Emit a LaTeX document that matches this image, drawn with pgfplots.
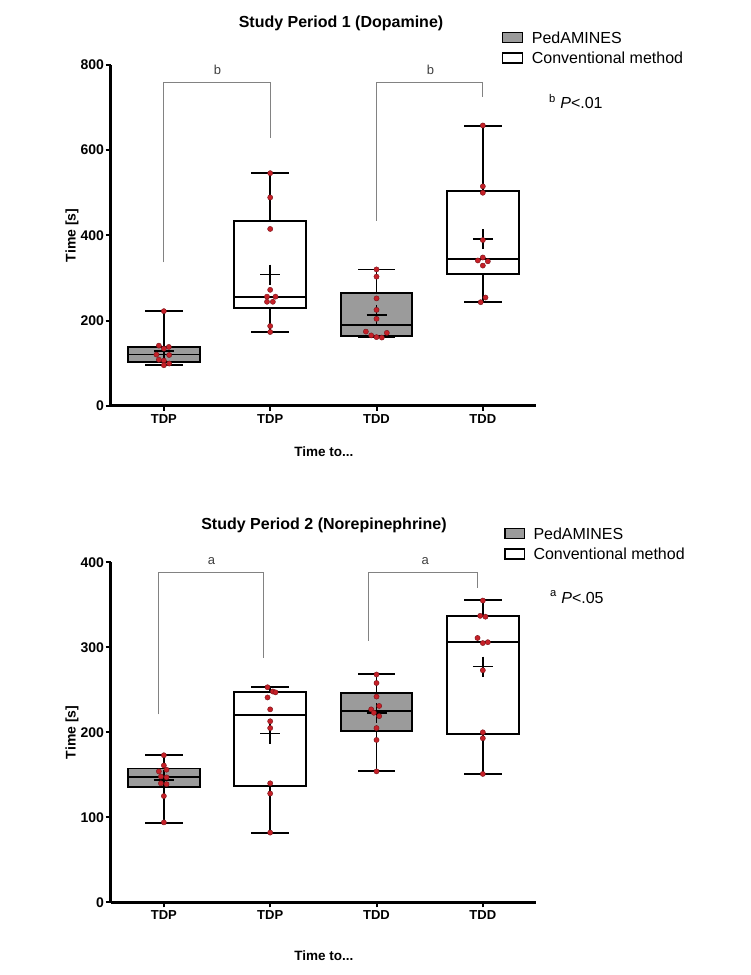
\documentclass[border=0pt]{standalone}
\usepackage{fontspec}
\setmainfont{Liberation Sans}
\usepackage{pgfplots}
\pgfplotsset{compat=1.18}

\definecolor{boxgray}{RGB}{155,155,155}
\definecolor{dotred}{RGB}{198,32,40}
\definecolor{dotedge}{RGB}{120,20,25}
\definecolor{brk}{RGB}{130,130,130}

\newcommand{\fs}[1]{\fontsize{#1}{#1}\selectfont}

% common style for both panels
\pgfplotsset{
  panel/.style={
    scale only axis, width=425.3pt, anchor=south west,
    xmin=-0.5, xmax=3.5, ymin=0,
    axis x line=bottom, axis y line=left,
    axis line style={-, line width=2.6pt, black},
    xtick={0,1,2,3}, xticklabels={TDP,TDP,TDD,TDD},
    tick align=outside, major tick length=5pt,
    tick style={line width=2pt, black},
    xticklabel style={font=\bfseries\fs{13}},
    yticklabel style={font=\bfseries\fs{14}, inner sep=1.5pt},
    /pgf/number format/assume math mode=true,
    ylabel={Time [s]}, xlabel={Time to...},
    clip=false,
  },
  pbox/.style={line width=1.8pt, draw=black, solid, line cap=rect, line join=miter},
  reddots/.style={only marks, mark=*, mark size=2.6pt,
    mark options={fill=dotred, draw=dotedge, line width=0.4pt}},
  meanmark/.style={only marks, mark=+, mark size=10pt,
    mark options={line width=1.6pt, black}},
}

% box: position, low whisker, Q1, median, Q3, high whisker, fill
\newcommand{\bx}[7]{%
  \pgfmathsetmacro{\xa}{#1-0.337}\pgfmathsetmacro{\xb}{#1+0.337}%
  \pgfmathsetmacro{\ca}{#1-0.17}\pgfmathsetmacro{\cb}{#1+0.17}%
  \addplot[pbox] coordinates {(#1,#2) (#1,#3)};
  \addplot[pbox] coordinates {(#1,#5) (#1,#6)};
  \addplot[pbox] coordinates {(\ca,#2) (\cb,#2)};
  \addplot[pbox] coordinates {(\ca,#6) (\cb,#6)};
  \addplot[pbox, fill=#7] coordinates {(\xa,#3) (\xb,#3) (\xb,#5) (\xa,#5) (\xa,#3)};
  \addplot[pbox] coordinates {(\xa,#4) (\xb,#4)};
}

\begin{document}
\begin{tikzpicture}
\useasboundingbox (0pt,0pt) rectangle (750pt,975pt);

% ---------------- Study Period 1 ----------------
\node[font=\bfseries\fs{16}] at (341pt,952pt) {Study Period 1 (Dopamine)};

\begin{axis}[panel, at={(110.7pt,569.3pt)}, height=340.7pt,
  ymax=800, ytick={0,200,...,800},
  ylabel style={font=\bfseries\fs{14}, at={(axis description cs:-0.091,0.5)}, rotate=0, anchor=center},
  xlabel style={font=\bfseries\fs{13.5}, at={(axis description cs:0.5015,-0.136)}, anchor=center}]
  \bx{0}{95}{103}{120}{137.8}{222}{boxgray}
  \bx{1}{173}{228.6}{256}{433.7}{545.6}{white}
  \bx{2}{160.5}{162.8}{188.7}{264.6}{320}{boxgray}
  \bx{3}{242.7}{310}{343.6}{504}{657.6}{white}

  \addplot[meanmark] coordinates {(0,128) (1,308) (2,213.5) (3,391)};

  \addplot[reddots] coordinates {
    (0,222) (-0.047,141) (0.047,138) (0,134) (-0.07,120) (0.05,119)
    (-0.047,108) (0,106) (0.05,99) (0,95)
    (1,546) (1,489) (1,415) (1,272) (0.97,256) (1.05,256) (0.97,244)
    (1.025,244) (1,187) (1,173)
    (2,320) (2,303) (2,252) (2,225) (2,204) (1.9,174) (2.097,171)
    (1.95,165) (2,161) (2.05,160)
    (3,658) (3,515) (3,500) (3,389) (3,348) (2.953,341) (3.047,339)
    (3,329) (3.025,254) (2.98,243)
  };

  \draw[brk, line width=0.9pt] (axis cs:0,336.6) -- (axis cs:0,759) -- (axis cs:1,759) -- (axis cs:1,627.8);
  \draw[brk, line width=0.9pt] (axis cs:2,434.5) -- (axis cs:2,759) -- (axis cs:3,759) -- (axis cs:3,725.7);
  \node[font=\fs{13}, text=black!75] at (axis cs:0.505,788) {b};
  \node[font=\fs{13}, text=black!75] at (axis cs:2.508,788) {b};
\end{axis}

\draw[line width=1.5pt, fill=boxgray] (502.7pt,932.5pt) rectangle (522.3pt,942.5pt);
\draw[line width=1.5pt, fill=white] (502.7pt,912pt) rectangle (522.3pt,922pt);
\node[anchor=west, inner sep=0pt, font=\fs{16}] at (531.7pt,937.5pt) {PedAMINES};
\node[anchor=west, inner sep=0pt, font=\fs{16}] at (531.7pt,917pt) {Conventional method};
\node[anchor=west, inner sep=0pt, font=\fs{16}] at (549pt,873.5pt) {\textsuperscript{b} \textit{P}<.01};

% ---------------- Study Period 2 ----------------
\node[font=\bfseries\fs{16}] at (324pt,450pt) {Study Period 2 (Norepinephrine)};

\begin{axis}[panel, at={(110.7pt,72.7pt)}, height=340pt,
  ymax=400, ytick={0,100,...,400},
  ylabel style={font=\bfseries\fs{14}, at={(axis description cs:-0.091,0.5)}, rotate=0, anchor=center},
  xlabel style={font=\bfseries\fs{13.5}, at={(axis description cs:0.5015,-0.158)}, anchor=center}]
  \bx{0}{93.7}{135.3}{147.8}{157.3}{172.9}{boxgray}
  \bx{1}{82}{136.9}{220.4}{247.5}{253.3}{white}
  \bx{2}{154.1}{201.6}{225.1}{246.3}{268.2}{boxgray}
  \bx{3}{151}{198.4}{305.9}{336.5}{355.3}{white}

  \addplot[meanmark] coordinates {(0,143.9) (1,198.4) (2,222.4) (3,277.3)};

  \addplot[reddots] coordinates {
    (0,173) (0,161) (0.025,156) (-0.047,154) (-0.028,148) (0.025,147)
    (-0.028,140) (0.025,139) (0,125) (0,94)
    (0.975,253) (1.025,248) (1.05,247) (0.975,241) (1,227) (1,213)
    (1,205) (1,140) (1,128) (1,82)
    (2,268) (2,258) (2,242) (2.025,231) (1.95,227) (1.975,223)
    (2.025,219) (2,205) (2,191) (2,154)
    (3,355) (2.975,337) (3.025,336) (2.95,311) (3,305) (3.047,306)
    (3,273) (3,200) (3,193) (3,151)
  };

  \draw[brk, line width=0.9pt] (axis cs:-0.047,221) -- (axis cs:-0.047,388) -- (axis cs:0.94,388) -- (axis cs:0.94,287);
  \draw[brk, line width=0.9pt] (axis cs:1.925,308) -- (axis cs:1.925,388) -- (axis cs:2.947,388) -- (axis cs:2.947,370);
  \node[font=\fs{13}, text=black!75] at (axis cs:0.448,402) {a};
  \node[font=\fs{13}, text=black!75] at (axis cs:2.458,402) {a};
\end{axis}

\draw[line width=1.5pt, fill=boxgray] (505pt,436.5pt) rectangle (524.3pt,446.5pt);
\draw[line width=1.5pt, fill=white] (505pt,416pt) rectangle (524.3pt,426pt);
\node[anchor=west, inner sep=0pt, font=\fs{16}] at (533.3pt,441.5pt) {PedAMINES};
\node[anchor=west, inner sep=0pt, font=\fs{16}] at (533.3pt,421pt) {Conventional method};
\node[anchor=west, inner sep=0pt, font=\fs{16}] at (550pt,378pt) {\textsuperscript{a} \textit{P}<.05};
\end{tikzpicture}
\end{document}
